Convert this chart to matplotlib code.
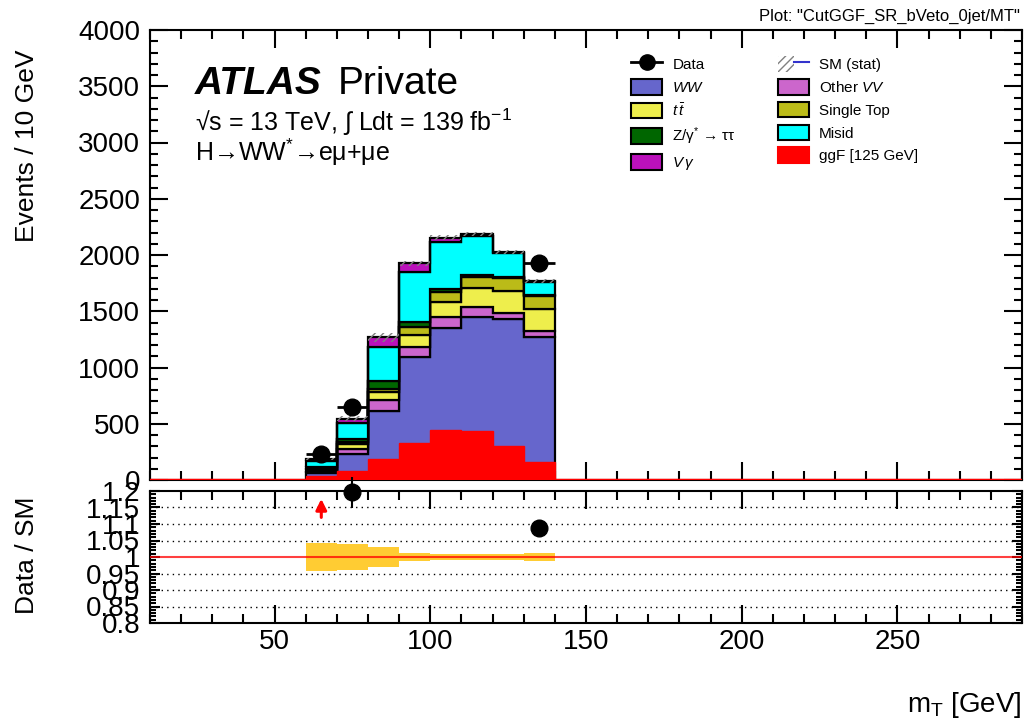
import numpy as np
import matplotlib
matplotlib.use("Agg")
import matplotlib.pyplot as plt
from matplotlib.ticker import MultipleLocator, FuncFormatter
from matplotlib.patches import Patch
from matplotlib.lines import Line2D
from matplotlib.legend_handler import HandlerTuple

plt.rcParams['font.family'] = ['Liberation Sans', 'DejaVu Sans']
plt.rcParams['mathtext.fontset'] = 'custom'
plt.rcParams['mathtext.rm'] = 'Liberation Sans'
plt.rcParams['mathtext.it'] = 'Liberation Sans:italic'
plt.rcParams['mathtext.bf'] = 'Liberation Sans:bold'
plt.rcParams['hatch.linewidth'] = 1.0

# bins with non-zero content (mT in GeV)
edges = np.arange(60, 150, 10)

# background stack, bottom to top
ww        = np.array([59, 228, 616, 1090, 1348, 1452, 1428, 1274])
other_vv  = np.array([12, 51, 95, 95, 98, 83, 59, 47])
ttbar     = np.array([15, 38, 71, 107, 139, 175, 190, 196])
single_top = np.array([9, 21, 24, 65, 89, 97, 116, 119])
ztautau   = np.array([18, 23, 71, 50, 27, 12, 8, 6])
misid     = np.array([53, 143, 302, 445, 418, 353, 214, 121])
vgamma    = np.array([18, 41, 89, 74, 35, 15, 15, 6])

# signal
ggf = np.array([36, 77, 184, 326, 444, 436, 302, 157])

# relative MC stat uncertainty
mc_stat_rel = np.array([0.043, 0.040, 0.030, 0.013, 0.0097, 0.009, 0.009, 0.011])

# data (only unblinded bins)
data_x = np.array([65, 75, 135])
data = np.array([231, 652, 1926])

stack = [
    (ww, '#6666CC', '$WW$'),
    (other_vv, '#CC66CC', 'Other $VV$'),
    (ttbar, '#EEEE4C', r'$t\,\bar{t}$'),
    (single_top, '#BBBB18', 'Single Top'),
    (ztautau, '#006600', 'Z/γ$^{*}$ → ττ'),
    (misid, '#00FFFF', 'Misid'),
    (vgamma, '#BB11BB', r'$V\,\gamma$'),
]

fig = plt.figure(figsize=(10.27, 7.25), dpi=100)
W, H = 1027.0, 725.0
ax = fig.add_axes([150 / W, 1 - 480 / H, 872 / W, 450 / H])
rax = fig.add_axes([150 / W, 1 - 623 / H, 872 / W, 132 / H])

# stacked backgrounds
base = np.zeros(len(ww))
for vals, col, lab in stack:
    ax.stairs(base + vals, edges, baseline=base.copy(), fill=True,
              facecolor=col, edgecolor='black', lw=1.6, zorder=2)
    base = base + vals
total = base

# MC stat band
ax.stairs(total * (1 + mc_stat_rel), edges, baseline=total * (1 - mc_stat_rel),
          fill=True, facecolor='none', edgecolor='gray', hatch='////', lw=0, zorder=3)

# signal
ax.axhline(0, color='red', lw=2.5, zorder=4)
ax.stairs(ggf, edges, baseline=0, fill=True, facecolor='red', edgecolor='red',
          lw=1, zorder=4)

# data
ax.errorbar(data_x, data, xerr=5, yerr=np.sqrt(data), fmt='o', color='black',
            markersize=12, elinewidth=2, capsize=0, zorder=6)

ax.set_xlim(10, 290)
ax.set_ylim(0, 4000)
ax.yaxis.set_major_locator(MultipleLocator(500))
ax.yaxis.set_minor_locator(MultipleLocator(100))
for a in (ax, rax):
    a.xaxis.set_major_locator(MultipleLocator(50))
    a.xaxis.set_minor_locator(MultipleLocator(10))
    a.tick_params(which='both', direction='in', top=True, right=True, width=1.5,
                  labelsize=20)
    a.tick_params(axis='x', which='major', length=13)
    a.tick_params(axis='x', which='minor', length=6.5)
    a.tick_params(axis='y', pad=7)
    for s in a.spines.values():
        s.set_linewidth(1.5)
ax.tick_params(axis='y', which='major', length=13)
ax.tick_params(axis='y', which='minor', length=6)
ax.tick_params(axis='x', labelbottom=False)
rax.tick_params(axis='y', which='major', length=7)
rax.tick_params(axis='y', which='minor', length=4)
rax.tick_params(axis='x', pad=4)

# ratio panel
centers = edges[:-1] + 5
idx = np.searchsorted(centers, data_x)
sm_at_data = total[idx]
ratio = data / sm_at_data
ratio_err = np.sqrt(data) / sm_at_data

rax.stairs(1 + mc_stat_rel, edges, baseline=1 - mc_stat_rel, fill=True,
           facecolor='#FFCC33', edgecolor='none', zorder=2)
for yv in [0.85, 0.9, 0.95, 1.05, 1.1, 1.15]:
    rax.axhline(yv, color='black', lw=1, ls=(0, (1, 3)), zorder=1)
rax.axhline(1, color='red', lw=1.5, alpha=0.75, zorder=3)

ymin_r, ymax_r = 0.8, 1.2
inside = ratio <= ymax_r
rax.errorbar(data_x[inside], ratio[inside], yerr=ratio_err[inside], fmt='o',
             color='black', markersize=12, elinewidth=1.5, capsize=0,
             zorder=6, clip_on=False)
for xv in data_x[~inside]:
    rax.annotate('', xy=(xv, 1.176), xytext=(xv, 1.12),
                 arrowprops=dict(arrowstyle='-|>', color='red', lw=2.2,
                                 mutation_scale=16, shrinkA=0, shrinkB=0),
                 zorder=6)

rax.set_xlim(10, 290)
rax.set_ylim(ymin_r, ymax_r)
rax.yaxis.set_major_locator(MultipleLocator(0.05))
rax.yaxis.set_minor_locator(MultipleLocator(0.01))
rax.yaxis.set_major_formatter(FuncFormatter(lambda v, p: '%g' % round(v, 2)))

# axis titles
fig.text(27 / W, 1 - 50 / H, 'Events / 10 GeV', rotation=90, ha='center',
         va='top', fontsize=19)
fig.text(27 / W, 1 - 497 / H, 'Data / SM', rotation=90, ha='center',
         va='top', fontsize=19)
fig.text(1022 / W, 1 - 712 / H, 'm$_{\\mathrm{T}}$ [GeV]', ha='right',
         va='baseline', fontsize=20)

# labels
fig.text(195 / W, 1 - 94 / H, 'ATLAS', fontsize=28, fontweight='bold',
         fontstyle='italic', va='baseline')
fig.text(338 / W, 1 - 94 / H, 'Private', fontsize=28, va='baseline')
fig.text(195 / W, 1 - 131 / H,
         '√s = 13 TeV, ∫ Ldt = 139 fb$^{\\mathregular{-1}}$',
         fontsize=18, va='baseline')
fig.text(195 / W, 1 - 161 / H, 'H→WW$^{*}$→eμ+μe', fontsize=18, va='baseline')
fig.text(1020 / W, 1 - 21 / H, 'Plot: "CutGGF_SR_bVeto_0jet/MT"', ha='right',
         va='baseline', fontsize=12)

# legend
data_h = Line2D([], [], color='black', marker='o', markersize=11, lw=2)
band_h = (Patch(facecolor='none', edgecolor='gray', hatch='////', lw=0),
          Line2D([], [], color='#3333CC', lw=1.5))
h1 = [data_h] + [Patch(facecolor=c, edgecolor='black', lw=1.5) for _, c, _ in
                 [stack[0], stack[2], stack[4], stack[6]]]
l1 = ['Data', stack[0][2], stack[2][2], stack[4][2], stack[6][2]]
h2 = [band_h] + [Patch(facecolor=c, edgecolor='black', lw=1.5) for _, c, _ in
                 [stack[1], stack[3], stack[5]]] + \
     [Patch(facecolor='red', edgecolor='red', lw=1.5)]
l2 = ['SM (stat)', stack[1][2], stack[3][2], stack[5][2], 'ggF [125 GeV]']

leg_kw = dict(frameon=False, fontsize=11, handlelength=2.05, handleheight=1.2,
              handletextpad=0.65, labelspacing=0.45, borderpad=0,
              borderaxespad=0, loc='upper left',
              handler_map={tuple: HandlerTuple(ndivide=None, pad=0)},
              bbox_transform=fig.transFigure)
leg1 = ax.legend(h1, l1, bbox_to_anchor=(631 / W, 1 - 56 / H), **leg_kw)
ax.add_artist(leg1)
ax.legend(h2, l2, bbox_to_anchor=(778 / W, 1 - 56 / H), **leg_kw)

fig.savefig('out.png', dpi=100)
